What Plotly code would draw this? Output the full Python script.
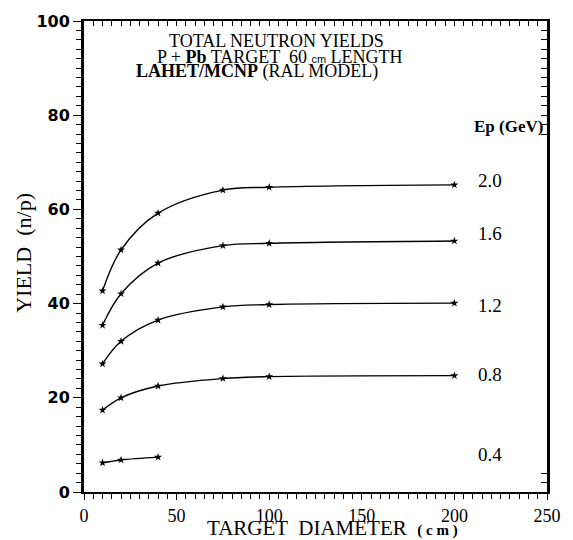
import plotly.graph_objects as go

# ---- data ----
diameter_cm = [10, 20, 40, 75, 100, 200]
diameter_cm_04 = [10, 20, 40]
energies_gev = ["2.0", "1.6", "1.2", "0.8", "0.4"]
yield_20 = [42.7, 51.4, 59.2, 64.1, 64.7, 65.2]
yield_16 = [35.4, 42.1, 48.6, 52.3, 52.8, 53.3]
yield_12 = [27.2, 32.0, 36.5, 39.3, 39.8, 40.1]
yield_08 = [17.4, 20.0, 22.5, 24.1, 24.5, 24.7]
yield_04 = [6.2, 6.8, 7.4]
x_ticks = [0, 50, 100, 150, 200, 250]
y_ticks = [0, 20, 40, 60, 80, 100]

series = [
    (diameter_cm, yield_20),
    (diameter_cm, yield_16),
    (diameter_cm, yield_12),
    (diameter_cm, yield_08),
    (diameter_cm_04, yield_04),
]

fig = go.Figure()
for (xs, ys), name in zip(series, energies_gev):
    fig.add_trace(go.Scatter(
        x=xs, y=ys, mode="lines+markers", name=name,
        line=dict(color="black", width=1.4, shape="spline", smoothing=1.0),
        marker=dict(symbol="star", size=6, color="black"),
        showlegend=False, hoverinfo="skip",
    ))

# empty trace on the mirrored (top/right) axes so they are drawn
fig.add_trace(go.Scatter(x=[], y=[], xaxis="x2", yaxis="y2", showlegend=False))

serif = "Liberation Serif"

# energy labels at right end of the curves
label_y = {"2.0": 66.2, "1.6": 54.9, "1.2": 39.7, "0.8": 25.0, "0.4": 8.0}
for e in energies_gev:
    fig.add_annotation(x=219, y=label_y[e], xref="x", yref="y", text=e,
                       showarrow=False, font=dict(family=serif, size=19, color="black"))

fig.add_annotation(x=249, y=77.7, xref="x", yref="y", text="<b>Ep (GeV)</b>",
                   xanchor="right", showarrow=False,
                   font=dict(family=serif, size=17, color="black"))

# header text
fig.add_annotation(x=104, y=95.8, xref="x", yref="y", text="TOTAL NEUTRON YIELDS",
                   showarrow=False, font=dict(family=serif, size=18, color="black"))
fig.add_annotation(x=106, y=92.3, xref="x", yref="y",
                   text="P + <b>Pb</b> TARGET  60 <span style='font-family:Liberation Sans;font-size:11px'>cm</span> LENGTH",
                   showarrow=False, font=dict(family=serif, size=18, color="black"))
fig.add_annotation(x=93.5, y=89.2, xref="x", yref="y",
                   text="<b>LAHET/MCNP</b> (RAL MODEL)",
                   showarrow=False, font=dict(family=serif, size=18, color="black"))

# axis titles
fig.add_annotation(x=0.537, y=-0.0755, xref="paper", yref="paper",
                   text="TARGET  DIAMETER  <b><span style='font-size:15px'>( c m )</span></b>",
                   showarrow=False, yanchor="middle",
                   font=dict(family=serif, size=21, color="black"))
fig.add_annotation(x=-0.1305, y=0.507, xref="paper", yref="paper",
                   text="YIELD  (n/p)", textangle=-90,
                   showarrow=False, xanchor="center", yanchor="middle",
                   font=dict(family=serif, size=22, color="black"))

fig.update_layout(
    width=573, height=540,
    margin=dict(l=84, r=14, t=15, b=48),
    paper_bgcolor="white", plot_bgcolor="white",
    xaxis=dict(
        range=[0, 250], tickvals=x_ticks, ticks="outside", ticklen=6, tickwidth=1.2,
        tickcolor="black", showline=True, linewidth=2, linecolor="black",
        showgrid=False, zeroline=False,
        minor=dict(dtick=5, ticks="outside", ticklen=5, tickwidth=1, tickcolor="black", showgrid=False),
        tickfont=dict(family=serif, size=18, color="black"),
    ),
    yaxis=dict(
        range=[0, 100], tickvals=y_ticks, ticks="outside", ticklen=8, tickwidth=1.2,
        tickcolor="black", showline=True, linewidth=3, linecolor="black",
        showgrid=False, zeroline=False,
        minor=dict(dtick=2, ticks="outside", ticklen=5, tickwidth=1, tickcolor="black", showgrid=False),
        tickfont=dict(family="DejaVu Sans", size=16, color="black", weight="bold"),
    ),
    xaxis2=dict(
        overlaying="x", side="top", anchor="y", range=[0, 250],
        tickvals=list(range(0, 251, 5)), ticks="inside", ticklen=5, tickwidth=1,
        tickcolor="black", showticklabels=False, showline=True, linewidth=2,
        linecolor="black", showgrid=False, zeroline=False,
    ),
    yaxis2=dict(
        overlaying="y", side="right", anchor="x", range=[0, 100],
        tickvals=[0, 2, 4] + list(range(76, 101, 2)), ticks="inside", ticklen=6, tickwidth=1,
        tickcolor="black", showticklabels=False, showline=True, linewidth=2.5,
        linecolor="black", showgrid=False, zeroline=False,
    ),
)

fig.write_html("out.html")
